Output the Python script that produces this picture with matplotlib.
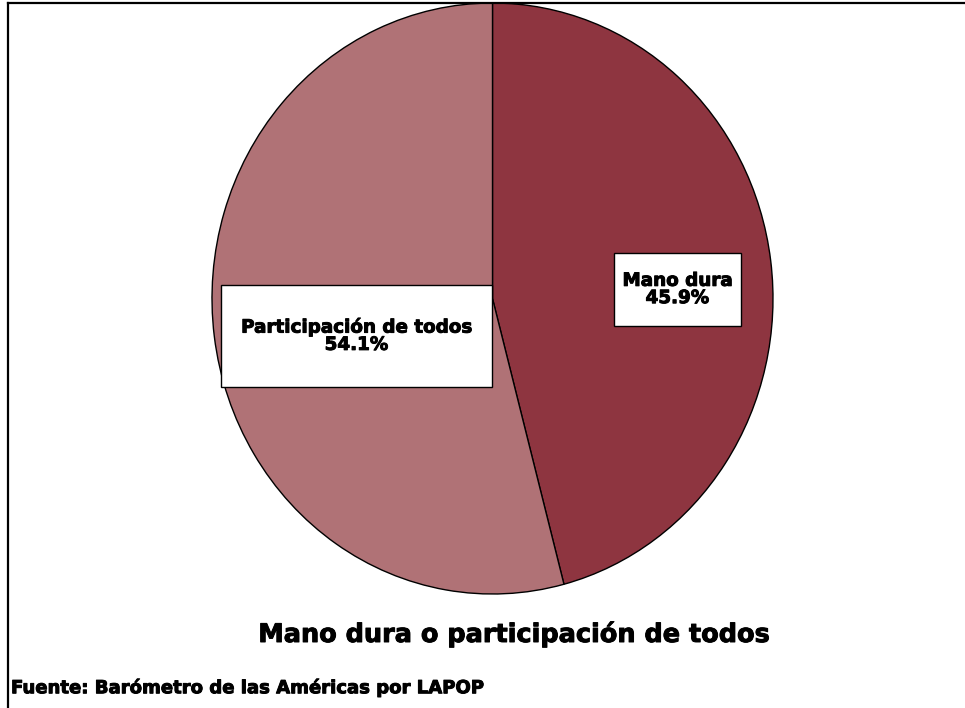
import matplotlib
matplotlib.use("Agg")
import matplotlib.pyplot as plt
from matplotlib.patches import Rectangle
from matplotlib.lines import Line2D
import matplotlib.patheffects as pe

categories = ["Mano dura", "Participación de todos"]
values = [45.9, 54.1]
colors = ["#8E3540", "#B07276"]
title = "Mano dura o participación de todos"
source = "Fuente: Barómetro de las Américas por LAPOP"

W, H = 965, 708
fig = plt.figure(figsize=(W / 100, H / 100), dpi=100)

def fx(px):
    return px / W

def fy(py):
    return 1 - py / H

heavy = [pe.withStroke(linewidth=0.7, foreground="black")]

# pie axes (elliptical pie, as in reference)
left, right, top, bottom = 212, 773, 3, 594
ax = fig.add_axes([fx(left), fy(bottom), (right - left) / W, (bottom - top) / H])
ax.pie(values, colors=colors, startangle=90, counterclock=False,
       wedgeprops=dict(edgecolor="black", linewidth=1.0))
ax.set_aspect("auto")
ax.set_xlim(-1, 1)
ax.set_ylim(-1, 1)
ax.axis("off")

# label boxes
boxes = [
    (614, 253, 741, 326),
    (221, 285, 492, 387),
]
for (x0, y0, x1, y1), cat, v in zip(boxes, categories, values):
    fig.patches.append(Rectangle((fx(x0), fy(y1)), (x1 - x0) / W, (y1 - y0) / H,
                                 transform=fig.transFigure, facecolor="white",
                                 edgecolor="black", linewidth=1.0, zorder=5))
    fig.text(fx((x0 + x1) / 2), fy((y0 + y1) / 2), f"{cat}\n{v:.1f}%",
             ha="center", va="center", fontsize=13.2, fontweight="bold",
             linespacing=0.95, zorder=6, path_effects=heavy)

fig.text(fx(514), fy(634), title, ha="center", va="center",
         fontsize=18.4, fontweight="bold", path_effects=heavy)
fig.text(fx(11), fy(688), source, ha="left", va="center",
         fontsize=13.0, fontweight="bold", path_effects=heavy)

# frame lines (top and left)
fig.add_artist(Line2D([fx(8), 1.0], [fy(3), fy(3)], transform=fig.transFigure,
                      color="black", linewidth=1.6))
fig.add_artist(Line2D([fx(8), fx(8)], [fy(3), 0.0], transform=fig.transFigure,
                      color="black", linewidth=1.6))

fig.savefig("out.png", dpi=100)
